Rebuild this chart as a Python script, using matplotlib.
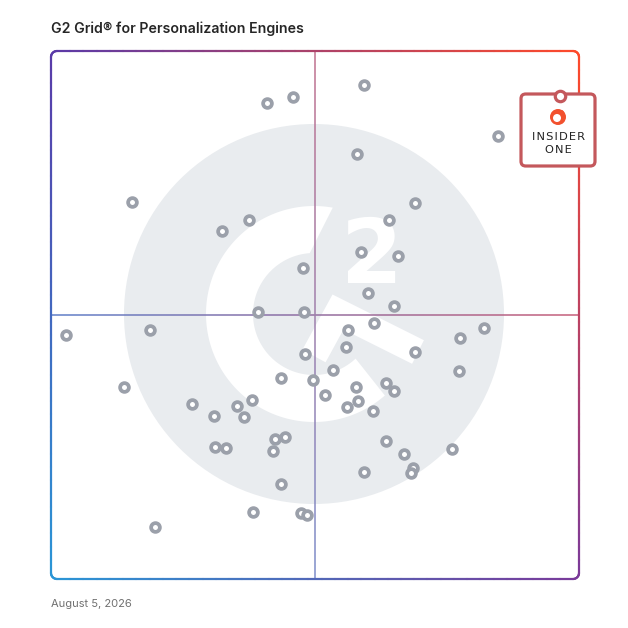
import numpy as np
import matplotlib
matplotlib.use("Agg")
import matplotlib.pyplot as plt
from matplotlib.collections import LineCollection
from matplotlib.patches import Circle, Polygon, FancyBboxPatch

title = "G2 Grid\u00ae for Personalization Engines"
date_label = "August 5, 2026"

# satisfaction (x) vs market presence (y), 0-100 across the grid
x_vals = [40.9, 45.8, 59.3, 84.7, 58.0, 15.3, 37.5, 32.4, 68.9, 64.0,
          58.7, 65.7, 47.7, 60.0, 65.0, 39.2, 47.9, 2.8, 18.8, 56.3,
          61.2, 82.0, 77.5, 55.9, 68.9, 48.1, 53.4, 77.3, 43.6, 49.6,
          13.8, 57.8, 63.4, 65.0, 51.9, 58.1, 56.1, 61.0, 26.7, 30.9,
          35.2, 38.1, 36.6, 42.4, 44.3, 42.0, 31.1, 33.1, 63.4, 66.9,
          75.9, 68.6, 68.2, 59.3, 43.6, 38.3, 19.7, 47.3, 48.5]
y_vals = [90.2, 91.3, 93.6, 83.9, 80.5, 71.4, 68.0, 65.9, 71.2, 68.0,
          61.9, 61.2, 58.9, 54.2, 51.7, 50.6, 50.6, 46.2, 47.2, 47.2,
          48.5, 47.5, 45.6, 43.9, 43.0, 42.6, 39.6, 39.4, 38.1, 37.7,
          36.4, 36.4, 37.1, 35.6, 34.8, 33.7, 32.6, 31.8, 33.1, 30.9,
          32.8, 33.9, 30.7, 26.5, 26.9, 24.2, 25.0, 24.8, 26.1, 23.7,
          24.6, 21.0, 20.1, 20.3, 18.0, 12.7, 9.8, 12.5, 12.1]

leader_name = ["INSIDER", "ONE"]
leader_x = 96.4
leader_y = 91.5

# corner colours of the grid frame
col_tl = np.array([0x5a, 0x3a, 0xa8]) / 255
col_tr = np.array([0xff, 0x4a, 0x2a]) / 255
col_bl = np.array([0x2a, 0x96, 0xd6]) / 255
col_br = np.array([0x7a, 0x3a, 0x9a]) / 255

PPU = 5.28  # pixels per grid unit


def P(x, y):
    return (x - 51) / PPU, (579 - y) / PPU


def color_at(x, y, fade=0.0):
    u, v = np.clip(x / 100, 0, 1), np.clip(y / 100, 0, 1)
    c = ((1 - u) * (1 - v) * col_bl + u * (1 - v) * col_br
         + (1 - u) * v * col_tl + u * v * col_tr)
    return c * (1 - fade) + fade


def grad_line(ax, xs, ys, lw, fade=0.0, z=3, cap="round"):
    pts = np.column_stack([xs, ys])
    segs = np.stack([pts[:-1], pts[1:]], axis=1)
    mids = (pts[:-1] + pts[1:]) / 2
    cols = [color_at(mx, my, fade) for mx, my in mids]
    lc = LineCollection(segs, colors=cols, linewidths=lw, zorder=z,
                        capstyle=cap, clip_on=False)
    ax.add_collection(lc)


fig = plt.figure(figsize=(6.28, 6.28), dpi=100)
ax = fig.add_axes([51 / 628, 49 / 628, 528 / 628, 528 / 628])
ax.set_xlim(0, 100)
ax.set_ylim(0, 100)
ax.axis("off")

# G2 watermark
cx, cy = P(314, 314)
ax.add_patch(Circle((cx, cy), 190 / PPU, fc="#e9ecef", ec="none", zorder=0))
ro, ri = 108 / PPU, 61 / PPU
t_out = np.radians(np.linspace(80, 311, 200))
t_in = np.radians(np.linspace(313, 94, 200))
ring = np.vstack([np.column_stack([cx + ro * np.cos(t_out), cy + ro * np.sin(t_out)]),
                  np.column_stack([cx + ri * np.cos(t_in), cy + ri * np.sin(t_in)])])
ax.add_patch(Polygon(ring, closed=True, fc="white", ec="none", zorder=1))
chev = [P(314, 356), P(338, 312), P(418, 352)]
ax.plot([c[0] for c in chev], [c[1] for c in chev], color="white", lw=19,
        solid_joinstyle="miter", solid_capstyle="butt", zorder=1)
ax.text(*P(372, 283), "2", fontsize=64, fontweight="bold", color="white",
        ha="center", va="baseline", zorder=1)

# frame with gradient
r = 6 / PPU
n = 40
pts = []
for (ccx, ccy, a0) in [(100 - r, 100 - r, 0), (r, 100 - r, 90), (r, r, 180), (100 - r, r, 270)]:
    a = np.radians(np.linspace(a0, a0 + 90, 12))
    seg = np.column_stack([ccx + r * np.cos(a), ccy + r * np.sin(a)])
    pts.append(seg)
    nxt = {0: (r, 100), 90: (0, r), 180: (100 - r, 0), 270: (100, 100 - r)}[a0]
    pts.append(np.linspace(seg[-1], nxt, n))
pts.append(pts[0][:1])
pts = np.vstack(pts)
grad_line(ax, pts[:, 0], pts[:, 1], lw=1.6, z=3)

# quadrant lines
mid = np.linspace(0, 100, 120)
grad_line(ax, mid, np.full_like(mid, 50.0), lw=1.1, fade=0.15, z=2, cap="butt")
grad_line(ax, np.full_like(mid, 50.0), mid, lw=1.1, fade=0.25, z=2, cap="butt")

# products
ax.plot(x_vals, y_vals, "o", ms=6.3, mfc="white", mec="#9ba0aa", mew=2.7,
        ls="none", zorder=4, clip_on=False)

# leader box
bx0, by1 = P(521, 94)
bx1, by0 = P(595, 166)
ax.add_patch(FancyBboxPatch((bx0, by0), bx1 - bx0, by1 - by0,
                            boxstyle="round,pad=0,rounding_size=0.9",
                            fc="white", ec="#c4585c", lw=2.3, zorder=5, clip_on=False))
ax.plot(leader_x, leader_y, "o", ms=7.5, mfc="white", mec="#c4585c", mew=2.3,
        zorder=6, clip_on=False)
ax.add_patch(Circle(P(558, 117), 8 / PPU, fc="#f2512e", ec="none", zorder=6, clip_on=False))
ax.add_patch(Circle(P(557, 118), 4 / PPU, fc="white", ec="none", zorder=7, clip_on=False))
ax.add_patch(Circle(P(562, 112), 1.7 / PPU, fc="#f2512e", ec="none", zorder=8, clip_on=False))
ax.text(*P(558, 137), "\u200a".join(leader_name[0]), fontsize=8.2, color="#222222",
        ha="center", va="center", zorder=7, family="DejaVu Sans")
ax.text(*P(558, 150), "\u200a".join(leader_name[1]), fontsize=8.2, color="#222222",
        ha="center", va="center", zorder=7, family="DejaVu Sans")

fig.text(51 / 628, 1 - 29 / 628, title, fontsize=10.2, fontweight="semibold",
         color="#262626", va="center", ha="left", family=["Inter", "DejaVu Sans"])
fig.text(51 / 628, 1 - 604 / 628, date_label, fontsize=8, color="#707070",
         va="center", ha="left", family=["Inter", "DejaVu Sans"])

fig.savefig("out.png", dpi=100)
